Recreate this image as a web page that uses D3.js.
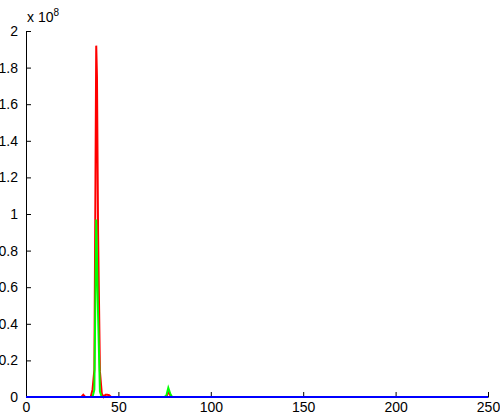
<!DOCTYPE html>
<html>
<head>
<meta charset="utf-8">
<script src="https://cdn.jsdelivr.net/npm/d3@7"></script>
<style>
  body { margin: 0; background: #fff; }
  .axis text { font-family: "Liberation Sans", Arial, sans-serif; font-size: 14px; fill: #000; }
  .axis path, .axis line { stroke: #000; }
</style>
</head>
<body>
<div id="chart"></div>
<script>
// values in units of 1e8
var redX = [0, 30, 31, 32, 35, 36, 37, 37.6, 38, 38.4, 39, 40, 41, 42, 43, 44, 45, 46, 75, 76, 77, 78, 79, 250]
var redY = [0, 0, 0.012, 0, 0, 0.04, 0.15, 1.2, 1.92, 1.75, 0.9, 0.14, 0.02, 0, 0.012, 0.012, 0.01, 0, 0, 0, 0.03, 0.01, 0, 0]

var greenX = [0, 36, 37, 38, 39, 40, 41, 75, 76, 77, 78, 79, 250]
var greenY = [0, 0, 0.04, 0.97, 0.45, 0.03, 0, 0, 0.01, 0.05, 0.02, 0, 0]

var blueX = [0, 250]
var blueY = [0, 0]

var xTicks = [0, 50, 100, 150, 200, 250]
var yTicks = [0, 0.2, 0.4, 0.6, 0.8, 1, 1.2, 1.4, 1.6, 1.8, 2]

var margin = { top: 31, right: 12, bottom: 19, left: 26 }
var width = 500 - margin.left - margin.right,
  height = 416 - margin.top - margin.bottom

var svg = d3.select("#chart").append("svg")
  .attr("width", 500)
  .attr("height", 416)
  .append("g")
  .attr("transform", "translate(" + margin.left + "," + margin.top + ")")

var x = d3.scaleLinear().domain([0, 250]).range([0, width])
var y = d3.scaleLinear().domain([0, 2]).range([height, 0])

var line = d3.line()
  .x(function (d) { return x(d[0]) })
  .y(function (d) { return y(d[1]) })

// ticks point inward, like matlab
var xAxis = d3.axisBottom(x).tickValues(xTicks).tickSizeInner(-5).tickSizeOuter(0).tickPadding(5)
svg.append("g")
  .attr("class", "axis x-axis")
  .attr("transform", "translate(0," + height + ")")
  .call(xAxis)

var yAxis = d3.axisLeft(y).tickValues(yTicks).tickSizeInner(-5).tickSizeOuter(0).tickPadding(8)
  .tickFormat(function (d) { return d3.format("")(+d.toFixed(1)) })
svg.append("g")
  .attr("class", "axis y-axis")
  .call(yAxis)

var series = [
  { xs: redX, ys: redY, color: "#ff0000" },
  { xs: greenX, ys: greenY, color: "#00ff00" },
  { xs: blueX, ys: blueY, color: "#0000ff" }
]

series.forEach(function (s) {
  svg.append("path")
    .datum(s.xs.map(function (v, i) { return [v, s.ys[i]] }))
    .attr("fill", "none")
    .attr("stroke", s.color)
    .attr("stroke-width", 2)
    .attr("d", line)
})

// exponent label
var ex = svg.append("text")
  .attr("x", 1)
  .attr("y", -9)
  .attr("font-family", "Liberation Sans, Arial, sans-serif")
  .attr("font-size", 14)
  .text("x 10")
ex.append("tspan")
  .attr("font-size", 10)
  .attr("dy", -6)
  .text("8")
</script>
</body>
</html>
